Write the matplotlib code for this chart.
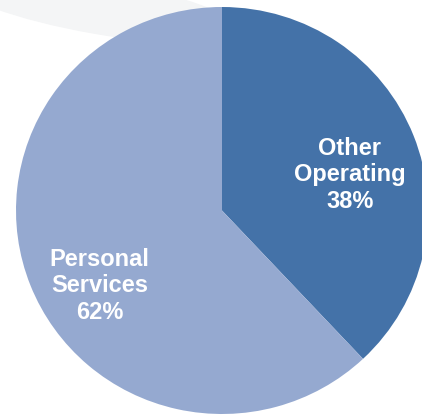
import matplotlib.pyplot as plt
from matplotlib.patches import Ellipse

# budget split
labels = ['Other\nOperating', 'Personal\nServices']
shares = [38, 62]
colors = ['#4472a8', '#95a9d0']

fig = plt.figure(dpi=100, figsize=(4.22, 4.16))
ax = fig.add_axes([0, 0, 1, 1])

# faint watermark swoosh behind the pie
ax.add_patch(Ellipse((-0.6, 1.0), 1.4, 0.26, angle=-10, color='#f4f5f6', zorder=0))

ax.pie(shares, colors=colors, startangle=90, counterclock=False,
       radius=1, center=(0, 0), wedgeprops={'linewidth': 0})

# label spots (data coords, pie radius 1)
spots = [(0.62, 0.175), (-0.595, -0.37)]
for (x, y), lab, v in zip(spots, labels, shares):
    ax.text(x, y, f'{lab}\n{v}%', ha='center', va='center', color='white',
            fontsize=17, fontweight='bold', family='Liberation Sans',
            linespacing=1.2)

ax.set_xlim(-222 / 206, 200 / 206)
ax.set_ylim(-205.5 / 203.5, 210.5 / 203.5)
ax.set_aspect('auto')
ax.axis('off')
plt.savefig('out.png', dpi=100)
